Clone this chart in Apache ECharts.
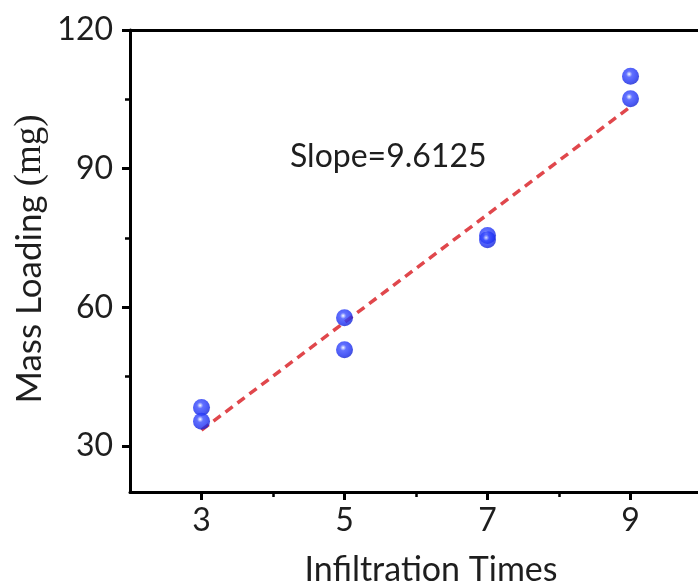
<!DOCTYPE html>
<html>
<head>
<meta charset="utf-8">
<script src="https://cdn.jsdelivr.net/npm/echarts@6/dist/echarts.min.js"></script>
<style>html,body{margin:0;padding:0;background:#fff}#c{width:698px;height:588px}</style>
</head>
<body>
<div id="c"></div>
<script>
// Data
const times = [3, 3, 5, 5, 7, 7, 9, 9];
const loading = [38.3, 35.3, 57.7, 50.8, 75.5, 74.6, 110.0, 105.1];
const fitX = [3, 9];
const fitY = [33.4, 103.4];
const xTickLabels = [3, 5, 7, 9];
const xMinorTicks = [4, 6, 8];
const yTickLabels = [30, 60, 90, 120];
const yMinorTicks = [45, 75, 105];
const slopeText = 'Slope=9.6125';
const xTitle = 'Infiltration Times';
const yTitleMain = 'Mass Loading ';
const yTitleUnit = '(mg)';

const FONT = 'Lato';
const W = 400;
const INK = '#1e1e1e';
const chart = echarts.init(document.getElementById('c'), null, {renderer: 'canvas'});

// the frame's right edge lies just beyond the picture
const xRange = {min: 2, max: 9.944};
const yRange = {min: 20, max: 120};
const lineStyle = {color: '#000', width: 3};

const sphere = {
  type: 'radial', x: 0.42, y: 0.38, r: 0.6,
  colorStops: [
    {offset: 0, color: '#ffffff'},
    {offset: 0.1, color: '#b8c2ff'},
    {offset: 0.3, color: '#3a4dff'},
    {offset: 0.75, color: '#1f32f4'},
    {offset: 1, color: '#1424d6'}
  ]
};

const option = {
  animation: false,
  backgroundColor: '#fff',
  grid: {left: 130, top: 30, width: 568, height: 462, containLabel: false},
  xAxis: [
    {
      type: 'value', position: 'bottom', ...xRange,
      axisLine: {show: true, lineStyle},
      axisTick: {show: true, length: 8, lineStyle: {color: '#000', width: 3}, customValues: xTickLabels},
      axisLabel: {show: true, margin: 13, fontFamily: FONT, fontWeight: W, fontSize: 32, color: INK, customValues: xTickLabels},
      splitLine: {show: false}
    },
    {
      type: 'value', position: 'bottom', ...xRange,
      axisLine: {show: false},
      axisTick: {show: true, length: 5, lineStyle: {color: '#000', width: 2.5}, customValues: xMinorTicks},
      axisLabel: {show: false},
      splitLine: {show: false}
    },
    {
      type: 'value', position: 'top', ...xRange,
      axisLine: {show: true, lineStyle},
      axisTick: {show: false}, axisLabel: {show: false}, splitLine: {show: false}
    }
  ],
  yAxis: [
    {
      type: 'value', position: 'left', ...yRange,
      axisLine: {show: true, lineStyle},
      axisTick: {show: true, length: 8, lineStyle: {color: '#000', width: 3}, customValues: yTickLabels},
      axisLabel: {show: true, margin: 17, fontFamily: FONT, fontWeight: W, fontSize: 32, color: INK, customValues: yTickLabels},
      splitLine: {show: false}
    },
    {
      type: 'value', position: 'left', ...yRange,
      axisLine: {show: false},
      axisTick: {show: true, length: 5, lineStyle: {color: '#000', width: 2.5}, customValues: yMinorTicks},
      axisLabel: {show: false},
      splitLine: {show: false}
    }
  ],
  series: [
    {
      type: 'line', xAxisIndex: 0, yAxisIndex: 0,
      data: fitX.map((x, i) => [x, fitY[i]]),
      symbol: 'none',
      lineStyle: {color: '#e0474c', width: 3.5, type: [9, 6]},
      z: 2
    },
    {
      type: 'scatter', xAxisIndex: 0, yAxisIndex: 0,
      data: times.map((x, i) => [x, loading[i]]),
      symbolSize: 17,
      itemStyle: {color: sphere},
      z: 3
    }
  ],
  graphic: [
    {
      type: 'text', left: 290, top: 141,
      style: {text: slopeText, fontFamily: FONT, fontWeight: W, fontSize: 32, fill: INK}
    },
    {
      type: 'text', x: 431, y: 570,
      style: {text: xTitle, fontFamily: FONT, fontWeight: W, fontSize: 34, fill: INK, align: 'center', verticalAlign: 'middle'}
    },
    {
      type: 'text', x: 30, y: 259, rotation: Math.PI / 2,
      style: {
        text: '{a|' + yTitleMain + '}{b|' + yTitleUnit + '}',
        align: 'center', verticalAlign: 'middle',
        fontWeight: W,
        rich: {
          a: {fontFamily: FONT, fontWeight: W, fontSize: 35, fill: INK},
          b: {fontFamily: 'Liberation Serif', fontWeight: W, fontSize: 37, fill: INK}
        }
      }
    }
  ]
};
chart.setOption(option);
</script>
</body>
</html>
